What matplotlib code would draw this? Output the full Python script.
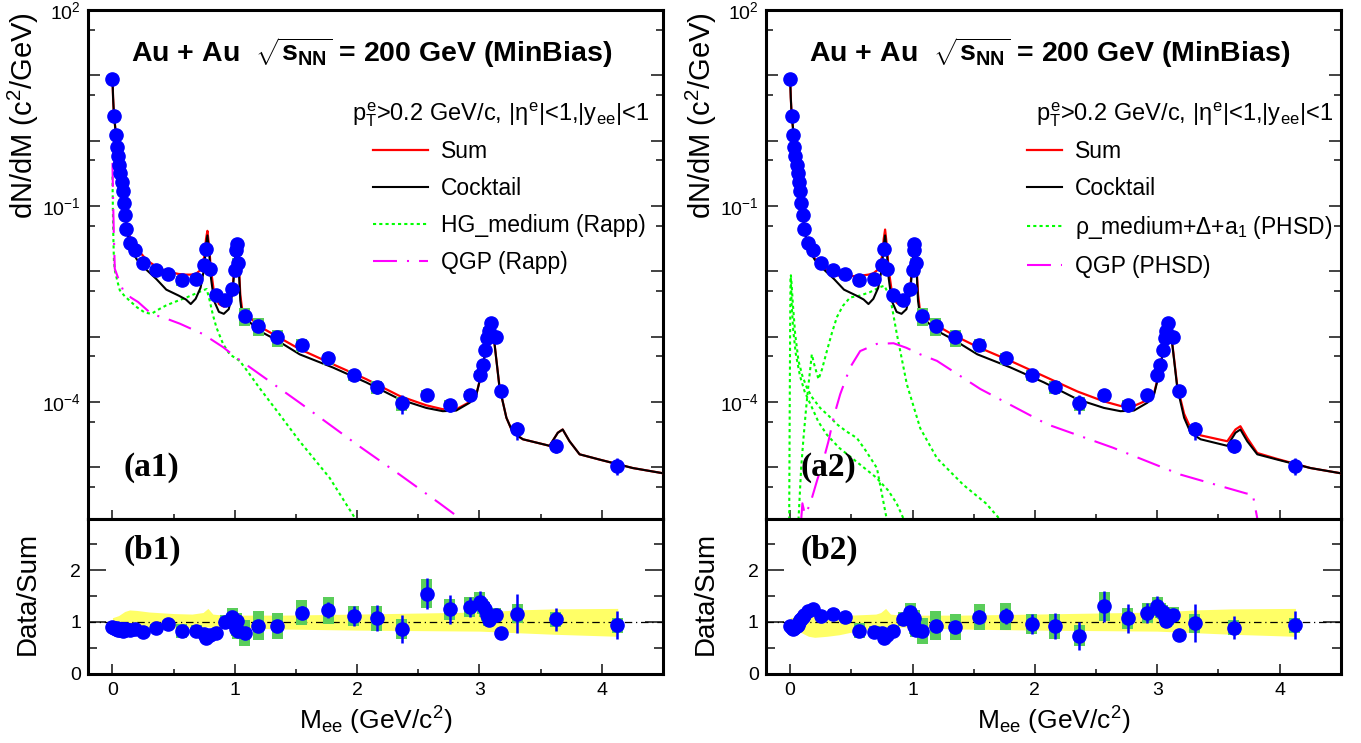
import numpy as np
import matplotlib
matplotlib.use("Agg")
import matplotlib.pyplot as plt
from matplotlib.ticker import FixedLocator, FuncFormatter, MultipleLocator
from matplotlib.patches import Rectangle

plt.rcParams["font.family"] = ["Liberation Sans", "DejaVu Sans"]
plt.rcParams["mathtext.fontset"] = "custom"
plt.rcParams["mathtext.rm"] = "Liberation Sans"
plt.rcParams["mathtext.it"] = "Liberation Sans"
plt.rcParams["mathtext.bf"] = "Liberation Sans:bold"

# -----------------------------
# Measured data (same points in both columns)
# -----------------------------
data_m = [0.000, 0.011, 0.025, 0.033, 0.043, 0.054, 0.065, 0.076, 0.084, 0.092,
          0.103, 0.111, 0.147, 0.185, 0.250, 0.354, 0.452, 0.566, 0.686, 0.748,
          0.768, 0.795, 0.844, 0.923, 0.980, 1.005, 1.013, 1.016, 1.026, 1.081,
          1.190, 1.348, 1.547, 1.763, 1.974, 2.162, 2.364, 2.568, 2.758, 2.919,
          3.001, 3.025, 3.044, 3.061, 3.074, 3.091, 3.131, 3.175, 3.309, 3.624,
          4.126]
data_y = [8.67, 2.37, 1.24, 0.80, 0.573, 0.428, 0.318, 0.237, 0.170, 0.112,
          0.0719, 0.0448, 0.0272, 0.0210, 0.0136, 0.0104, 0.00908, 0.00728, 0.00773, 0.0124,
          0.0220, 0.0110, 0.00428, 0.00367, 0.00535, 0.0104, 0.0210, 0.0258, 0.0134, 0.00210,
          0.00148, 9.75e-4, 7.53e-4, 4.72e-4, 2.58e-4, 1.72e-4, 9.66e-5, 1.28e-4, 9.1e-5, 1.28e-4,
          2.63e-4, 3.71e-4, 6.31e-4, 9.42e-4, 1.24e-3, 1.60e-3, 9.75e-4, 1.48e-4, 3.8e-5, 2.10e-5,
          1.06e-5]

# Data/Sum ratios
ratio_rapp = [0.90, 0.88, 0.86, 0.88, 0.85, 0.87, 0.84, 0.86, 0.83, 0.86,
              0.84, 0.87, 0.85, 0.87, 0.81, 0.88, 0.955, 0.82, 0.83, 0.76,
              0.68, 0.74, 0.79, 1.00, 1.085, 0.95, 0.87, 1.02, 0.82, 0.79,
              0.92, 0.92, 1.18, 1.226, 1.11, 1.066, 0.86, 1.54, 1.24, 1.29,
              1.39, 1.30, 1.24, 1.13, 1.03, 1.10, 1.13, 0.775, 1.16, 1.046,
              0.93]
ratio_phsd = [0.92, 0.88, 0.87, 0.88, 0.90, 0.92, 0.94, 0.99, 1.03, 1.06,
              1.10, 1.13, 1.21, 1.24, 1.11, 1.16, 1.085, 0.83, 0.81, 0.78,
              0.68, 0.75, 0.83, 1.05, 1.19, 1.00, 0.92, 1.08, 0.85, 0.82,
              0.92, 0.90, 1.10, 1.11, 0.955, 0.917, 0.73, 1.30, 1.066, 1.17,
              1.30, 1.22, 1.19, 1.10, 1.02, 1.066, 1.14, 0.74, 0.97, 0.89,
              0.93]

# uncertainties on the ratio (absolute)
stat_err = [0.03, 0.03, 0.03, 0.03, 0.03, 0.03, 0.03, 0.03, 0.03, 0.03,
            0.03, 0.03, 0.03, 0.03, 0.04, 0.04, 0.05, 0.06, 0.06, 0.06,
            0.05, 0.05, 0.05, 0.08, 0.08, 0.07, 0.07, 0.07, 0.07, 0.08,
            0.08, 0.10, 0.12, 0.15, 0.20, 0.25, 0.27, 0.30, 0.28, 0.20,
            0.20, 0.12, 0.10, 0.08, 0.08, 0.08, 0.10, 0.05, 0.37, 0.23,
            0.27]
sys_err = [0.05, 0.05, 0.05, 0.05, 0.05, 0.05, 0.05, 0.05, 0.05, 0.05,
           0.05, 0.05, 0.05, 0.06, 0.06, 0.08, 0.07, 0.14, 0.10, 0.08,
           0.08, 0.08, 0.08, 0.14, 0.18, 0.15, 0.15, 0.15, 0.15, 0.25,
           0.28, 0.26, 0.25, 0.26, 0.20, 0.24, 0.20, 0.28, 0.21, 0.19,
           0.18, 0.15, 0.14, 0.12, 0.12, 0.12, 0.14, 0.05, 0.18, 0.14,
           0.14]

# -----------------------------
# Model curves, log10(dN/dM)
# -----------------------------
curve_m = [0.0, 0.005, 0.011, 0.025, 0.04, 0.055, 0.07, 0.085, 0.1, 0.12,
           0.15, 0.2, 0.28, 0.36, 0.44, 0.54, 0.6, 0.64, 0.68, 0.72,
           0.75, 0.765, 0.776, 0.79, 0.805, 0.83, 0.87, 0.91, 0.95, 0.98,
           1.0, 1.015, 1.03, 1.045, 1.06, 1.08, 1.19, 1.34, 1.53, 1.80,
           2.075, 2.35, 2.565, 2.70, 2.81, 2.92, 2.975, 3.015, 3.055, 3.096,
           3.12, 3.164, 3.22, 3.273, 3.355, 3.573, 3.64, 3.68, 3.736, 3.818,
           3.98, 4.253, 4.5]
cocktail_lg = [0.95, 0.66, 0.43, 0.15, -0.16, -0.33, -0.50, -0.72, -1.05, -1.40,
               -1.66, -1.82, -1.98, -2.12, -2.28, -2.37, -2.43, -2.50, -2.42, -2.25,
               -1.95, -1.60, -1.45, -1.70, -2.10, -2.45, -2.62, -2.65, -2.58, -2.35,
               -1.90, -1.55, -1.85, -2.45, -2.66, -2.70, -2.90, -3.05, -3.27, -3.47,
               -3.70, -3.96, -4.09, -4.14, -4.13, -4.01, -3.88, -3.57, -3.16, -2.78,
               -3.06, -3.78, -4.24, -4.47, -4.57, -4.67, -4.47, -4.42, -4.60, -4.80,
               -4.88, -5.01, -5.09]
sum_rapp_lg = [0.95, 0.66, 0.43, 0.15, -0.16, -0.33, -0.50, -0.72, -1.03, -1.36,
               -1.50, -1.65, -1.83, -1.93, -2.00, -2.04, -2.05, -2.05, -2.04, -1.98,
               -1.78, -1.50, -1.38, -1.62, -1.98, -2.32, -2.50, -2.54, -2.49, -2.29,
               -1.87, -1.52, -1.80, -2.36, -2.58, -2.62, -2.83, -2.99, -3.19, -3.42,
               -3.65, -3.91, -4.05, -4.11, -4.11, -4.00, -3.88, -3.57, -3.16, -2.78,
               -3.06, -3.78, -4.24, -4.47, -4.57, -4.67, -4.47, -4.42, -4.60, -4.80,
               -4.88, -5.01, -5.09]
sum_phsd_lg = [0.95, 0.66, 0.43, 0.15, -0.16, -0.33, -0.50, -0.72, -1.05, -1.40,
               -1.64, -1.80, -1.95, -2.05, -2.08, -2.07, -2.06, -2.05, -2.03, -1.97,
               -1.78, -1.50, -1.36, -1.60, -1.97, -2.30, -2.48, -2.53, -2.48, -2.28,
               -1.87, -1.52, -1.80, -2.35, -2.58, -2.62, -2.82, -2.98, -3.155, -3.37,
               -3.605, -3.84, -3.99, -4.06, -4.06, -3.97, -3.86, -3.56, -3.15, -2.78,
               -3.05, -3.75, -4.18, -4.40, -4.51, -4.60, -4.42, -4.37, -4.55, -4.78,
               -4.87, -5.01, -5.09]

hg_rapp_m = [0.0, 0.005, 0.012, 0.02, 0.04, 0.06, 0.1, 0.141, 0.2, 0.264,
             0.318, 0.38, 0.44, 0.52, 0.605, 0.68, 0.74, 0.77, 0.795, 0.82,
             0.85, 0.904, 0.958, 1.04, 1.1, 1.2, 1.35, 1.53, 1.775, 1.99]
hg_rapp_lg = [-0.55, -1.3, -1.85, -1.99, -2.15, -2.29, -2.38, -2.45, -2.55, -2.63,
              -2.65, -2.58, -2.52, -2.46, -2.40, -2.34, -2.29, -2.27, -2.45, -2.66,
              -2.86, -3.11, -3.27, -3.37, -3.52, -3.78, -4.15, -4.60, -5.16, -5.80]

qgp_rapp_m = [0.0, 0.005, 0.011, 0.019, 0.046, 0.087, 0.15, 0.21, 0.318, 0.45,
              0.55, 0.74, 0.904, 1.013, 1.2, 1.53, 2.02, 2.347, 2.674, 2.84, 2.86]
qgp_rapp_lg = [-0.34, -0.9, -1.42, -1.96, -2.10, -2.29, -2.40, -2.47, -2.65, -2.73,
               -2.80, -2.96, -3.16, -3.32, -3.57, -4.01, -4.68, -5.11, -5.55, -5.78, -5.85]

rho_phsd_m = [0.068, 0.09, 0.109, 0.13, 0.15, 0.177, 0.2, 0.232, 0.26, 0.30,
              0.34, 0.382, 0.43, 0.49, 0.572, 0.65, 0.736, 0.77, 0.818, 0.872,
              0.954, 1.063, 1.2, 1.417, 1.6, 1.717]
rho_phsd_lg = [-5.8, -5.0, -4.55, -4.1, -3.73, -3.27, -3.45, -3.65, -3.5, -3.22,
               -2.95, -2.70, -2.53, -2.40, -2.37, -2.32, -2.24, -2.22, -2.40, -2.96,
               -3.73, -4.40, -4.86, -5.27, -5.55, -5.8]

low_phsd_a_m = [-0.008, -0.004, 0.0, 0.003, 0.006, 0.012, 0.022, 0.041, 0.068, 0.1,
                0.136, 0.18, 0.245, 0.32, 0.382, 0.46, 0.545, 0.62, 0.709, 0.79]
low_phsd_a_lg = [-5.8, -4.2, -2.8, -2.1, -2.06, -2.2, -2.5, -2.96, -3.37, -3.6,
                 -3.78, -3.93, -4.09, -4.22, -4.34, -4.45, -4.55, -4.75, -5.01, -5.8]

low_phsd_b_m = [0.005, 0.012, 0.025, 0.045, 0.08, 0.12, 0.17, 0.23, 0.3, 0.4,
                0.5, 0.6, 0.7, 0.8, 0.87, 0.93]
low_phsd_b_lg = [-2.1, -2.5, -2.9, -3.25, -3.6, -3.85, -4.05, -4.3, -4.5, -4.7,
                 -4.85, -5.0, -5.15, -5.35, -5.55, -5.8]

qgp_phsd_m = [0.09, 0.1, 0.12, 0.16, 0.22, 0.27, 0.313, 0.36, 0.409, 0.49,
              0.572, 0.709, 0.845, 0.95, 1.063, 1.2, 1.554, 2.1, 2.64, 3.19,
              3.73, 3.78, 3.8, 3.82]
qgp_phsd_lg = [-5.8, -5.55, -5.72, -5.58, -5.2, -4.9, -4.6, -4.2, -3.88, -3.47,
               -3.22, -3.11, -3.10, -3.17, -3.27, -3.37, -3.80, -4.34, -4.70, -5.11,
               -5.40, -5.40, -5.6, -5.8]

# cocktail uncertainty band for the ratio panels
band_rapp_m = [0.0, 0.05, 0.1, 0.14, 0.2, 0.3, 0.5, 0.65, 0.74, 0.78, 0.82,
               0.9, 1.0, 1.1, 1.4, 2.0, 2.5, 3.0, 3.1, 3.3, 3.6, 4.13]
band_rapp_hi = [1.08, 1.12, 1.20, 1.23, 1.22, 1.19, 1.16, 1.15, 1.18, 1.26, 1.15,
                1.13, 1.13, 1.13, 1.13, 1.15, 1.17, 1.19, 1.20, 1.23, 1.25, 1.26]
band_rapp_lo = [0.86, 0.85, 0.85, 0.86, 0.86, 0.87, 0.88, 0.89, 0.89, 0.90, 0.89,
                0.90, 0.90, 0.88, 0.86, 0.84, 0.83, 0.82, 0.81, 0.79, 0.76, 0.72]

band_phsd_m = [0.0, 0.05, 0.1, 0.15, 0.2, 0.3, 0.4, 0.5, 0.6, 0.7, 0.74, 0.78,
               0.82, 0.9, 1.0, 1.1, 1.4, 2.0, 2.5, 3.0, 3.1, 3.3, 3.6, 4.13]
band_phsd_hi = [1.08, 1.10, 1.11, 1.12, 1.12, 1.13, 1.13, 1.13, 1.14, 1.15, 1.18, 1.26,
                1.15, 1.13, 1.13, 1.13, 1.13, 1.15, 1.17, 1.19, 1.20, 1.23, 1.25, 1.26]
band_phsd_lo = [0.90, 0.85, 0.78, 0.72, 0.70, 0.72, 0.75, 0.80, 0.84, 0.86, 0.87, 0.88,
                0.89, 0.90, 0.90, 0.88, 0.86, 0.84, 0.83, 0.82, 0.81, 0.79, 0.76, 0.72]

# -----------------------------
# Styles
# -----------------------------
BLUE = "#0000ff"
SYS_GREEN = "#5acd5a"
YELLOW = "#ffff66"
DOTTED = (0, (1.5, 1.5))
DASHDOT = (0, (11.5, 4.8, 1, 4.8))
TITLE = r"Au + Au  $\sqrt{\mathbf{s}_{\mathbf{NN}}}$ = 200 GeV (MinBias)"
KINE = r"$p_{T}^{e}$>0.2 GeV/c, |$\eta^{e}$|<1,|y$_{ee}$|<1"

fig = plt.figure(figsize=(13.61, 7.43), dpi=100)


def add_axes_px(x0, y0, x1, y1):
    return fig.add_axes([x0 / 1361, 1 - y1 / 743, (x1 - x0) / 1361, (y1 - y0) / 743])


def decade_label(v, pos):
    k = int(round(np.log10(v)))
    return r"$10^{%d}$" % k if k in (2, -1, -4) else ""


def style_frame(ax):
    for s in ax.spines.values():
        s.set_linewidth(2.2)
    ax.tick_params(which="both", direction="in", top=False, right=True,
                   labelsize=14, width=1.2, color="#222222")


def setup_top(ax):
    style_frame(ax)
    ax.set_yscale("log")
    ax.set_xlim(-0.2, 4.5)
    ax.set_ylim(10 ** -5.79, 1e2)
    ax.yaxis.set_major_locator(FixedLocator([10.0 ** k for k in range(-5, 3)]))
    ax.yaxis.set_minor_locator(FixedLocator([5 * 10.0 ** k for k in range(-6, 2)]))
    ax.yaxis.set_major_formatter(FuncFormatter(decade_label))
    ax.yaxis.set_minor_formatter(FuncFormatter(lambda v, p: ""))
    ax.xaxis.set_major_locator(MultipleLocator(1))
    ax.xaxis.set_minor_locator(MultipleLocator(0.5))
    ax.tick_params(axis="y", which="major", length=8.6, pad=5)
    ax.tick_params(axis="y", which="minor", length=5)
    ax.tick_params(axis="x", which="major", length=6.5, labelbottom=False)
    ax.tick_params(axis="x", which="minor", length=3.6)
    ax.set_ylabel(r"dN/dM (c$^2$/GeV)", fontsize=21, loc="top")
    ax.yaxis.set_label_coords(-0.082, 0.996)
    ax.text(0.494, 0.898, TITLE, transform=ax.transAxes, ha="center",
            va="baseline", fontsize=20.5, fontweight="bold")


def setup_ratio(ax, tag):
    style_frame(ax)
    ax.set_xlim(-0.2, 4.5)
    ax.set_ylim(0, 2.99)
    ax.yaxis.set_major_locator(FixedLocator([0, 1, 2]))
    ax.yaxis.set_minor_locator(FixedLocator([0.5, 1.5, 2.5]))
    ax.xaxis.set_major_locator(MultipleLocator(1))
    ax.xaxis.set_minor_locator(MultipleLocator(0.5))
    ax.tick_params(axis="y", which="major", length=13, pad=5)
    ax.tick_params(axis="y", which="minor", length=6.5)
    ax.tick_params(axis="x", which="major", length=7, pad=6)
    ax.tick_params(axis="x", which="minor", length=3.6)
    ax.set_ylabel("Data/Sum", fontsize=20)
    ax.yaxis.set_label_coords(-0.082, 0.515)
    ax.set_xlabel(r"M$_{\rm ee}$ (GeV/c$^2$)", fontsize=19)
    ax.xaxis.set_label_coords(0.5, -0.2)
    ax.text(0.061, 0.80, tag, transform=ax.transAxes, ha="left", va="center",
            fontsize=24, fontweight="bold", family="Liberation Serif")


def draw_points_top(ax):
    m = np.array(data_m)
    y = np.array(data_y)
    rel_sys = np.array(sys_err) / np.array(ratio_rapp)
    rel_stat = np.array(stat_err) / np.array(ratio_rapp)
    for mi, yi, rs in zip(m, y, rel_sys):
        ax.add_patch(Rectangle((mi - 0.045, yi * (1 - rs)), 0.09, 2 * rs * yi,
                               facecolor=SYS_GREEN, edgecolor="none", zorder=4))
    ax.errorbar(m, y, yerr=y * rel_stat, fmt="o", color=BLUE, ms=9.5,
                elinewidth=1.8, capsize=0, zorder=5)


def draw_ratio(ax, ratio, band_m, band_lo, band_hi):
    ax.fill_between(band_m, band_lo, band_hi, color=YELLOW, lw=0, zorder=1)
    ax.axhline(1, color="black", lw=0.9, ls=(0, (6, 3, 1, 3)), zorder=2)
    for mi, ri, si in zip(data_m, ratio, sys_err):
        ax.add_patch(Rectangle((mi - 0.045, ri - si), 0.09, 2 * si,
                               facecolor=SYS_GREEN, edgecolor="none", zorder=3))
    ax.errorbar(data_m, ratio, yerr=stat_err, fmt="o", color=BLUE, ms=9.5,
                elinewidth=1.8, capsize=0, zorder=5)


def lg(a):
    return 10.0 ** np.array(a)


# -----------------------------
# Left column: Rapp
# -----------------------------
ax1 = add_axes_px(88, 10, 663, 519)
ax1r = add_axes_px(88, 519, 663, 673.5)
setup_top(ax1)
setup_ratio(ax1r, "(b1)")

l_sum, = ax1.plot(curve_m, lg(sum_rapp_lg), color="red", lw=1.6, zorder=3)
l_cock, = ax1.plot(curve_m, lg(cocktail_lg), color="black", lw=1.5, zorder=3)
l_hg, = ax1.plot(hg_rapp_m, lg(hg_rapp_lg), color="#00ff00", lw=1.5, ls=DOTTED, zorder=2)
l_qgp, = ax1.plot(qgp_rapp_m, lg(qgp_rapp_lg), color="#ff00ff", lw=1.5, ls=DASHDOT, zorder=2)
draw_points_top(ax1)
ax1.legend([l_sum, l_cock, l_hg, l_qgp],
           ["Sum", "Cocktail", "HG_medium (Rapp)", "QGP (Rapp)"],
           loc="upper left", bbox_to_anchor=(0.496, 0.744), frameon=False,
           fontsize=16.5, handlelength=2.4, handletextpad=0.55, labelspacing=0.6,
           borderpad=0, borderaxespad=0)
ax1.text(0.976, 0.783, KINE, transform=ax1.transAxes, ha="right", va="baseline", fontsize=17)
ax1.text(0.061, 0.102, "(a1)", transform=ax1.transAxes, ha="left", va="center",
         fontsize=24, fontweight="bold", family="Liberation Serif")
draw_ratio(ax1r, ratio_rapp, band_rapp_m, band_rapp_lo, band_rapp_hi)

# -----------------------------
# Right column: PHSD
# -----------------------------
ax2 = add_axes_px(765.7, 10, 1340.7, 519)
ax2r = add_axes_px(765.7, 519, 1340.7, 673.5)
setup_top(ax2)
setup_ratio(ax2r, "(b2)")

r_sum, = ax2.plot(curve_m, lg(sum_phsd_lg), color="red", lw=1.6, zorder=3)
r_cock, = ax2.plot(curve_m, lg(cocktail_lg), color="black", lw=1.5, zorder=3)
r_rho, = ax2.plot(rho_phsd_m, lg(rho_phsd_lg), color="#00ff00", lw=1.5, ls=DOTTED, zorder=2)
ax2.plot(low_phsd_a_m, lg(low_phsd_a_lg), color="#00ff00", lw=1.5, ls=DOTTED, zorder=2)
ax2.plot(low_phsd_b_m, lg(low_phsd_b_lg), color="#00ff00", lw=1.5, ls=DOTTED, zorder=2)
r_qgp, = ax2.plot(qgp_phsd_m, lg(qgp_phsd_lg), color="#ff00ff", lw=1.5, ls=DASHDOT, zorder=2)
draw_points_top(ax2)
ax2.legend([r_sum, r_cock, r_rho, r_qgp],
           ["Sum", "Cocktail", r"ρ_medium+Δ+a$_1$ (PHSD)", "QGP (PHSD)"],
           loc="upper left", bbox_to_anchor=(0.454, 0.744), frameon=False,
           fontsize=16.5, handlelength=1.55, handletextpad=0.55, labelspacing=0.6,
           borderpad=0, borderaxespad=0)
ax2.text(0.987, 0.783, KINE, transform=ax2.transAxes, ha="right", va="baseline", fontsize=17)
ax2.text(0.06, 0.102, "(a2)", transform=ax2.transAxes, ha="left", va="center",
         fontsize=24, fontweight="bold", family="Liberation Serif")
draw_ratio(ax2r, ratio_phsd, band_phsd_m, band_phsd_lo, band_phsd_hi)

fig.savefig("out.png", dpi=100)
